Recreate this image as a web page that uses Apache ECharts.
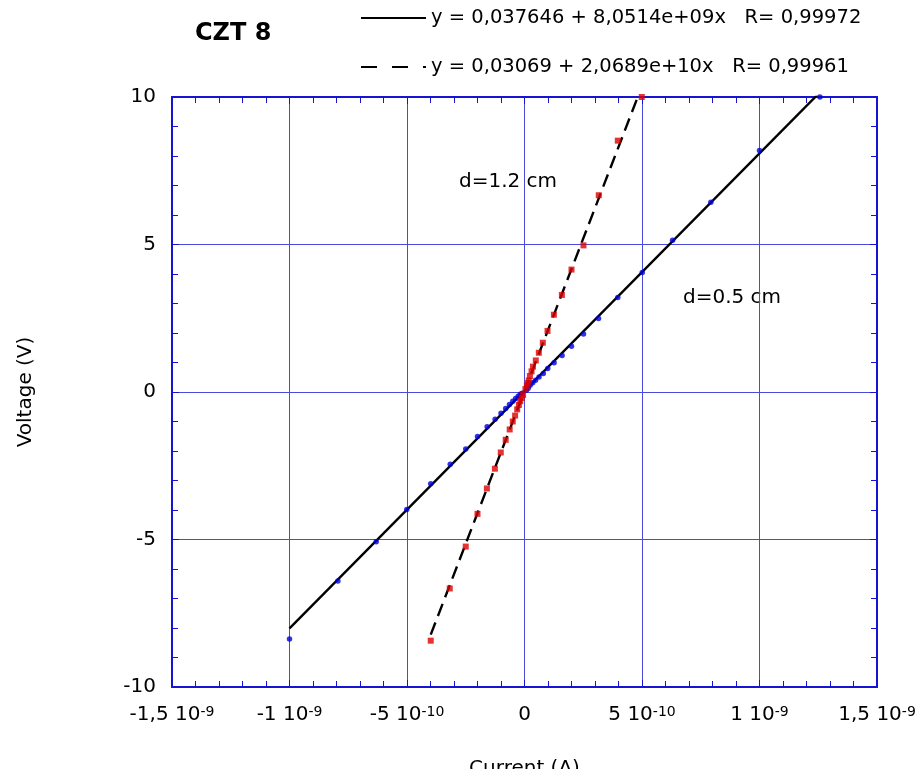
<!DOCTYPE html>
<html>
<head>
<meta charset="utf-8">
<script src="https://cdn.jsdelivr.net/npm/echarts@6/dist/echarts.min.js"></script>
<style>
html,body{margin:0;padding:0;background:#fff;}
#chart{width:917px;height:769px;}
</style>
</head>
<body>
<div id="chart"></div>
<script>
// ---------- data ----------
// d = 0.5 cm sample (blue circles): current (A), voltage (V)
const currentThin = [-1.000e-9, -0.794e-9, -0.631e-9, -0.501e-9, -0.399e-9, -0.316e-9, -0.250e-9, -0.200e-9,
  -0.159e-9, -0.125e-9, -0.100e-9, -0.080e-9, -0.064e-9, -0.050e-9, -0.038e-9, -0.027e-9, -0.018e-9, -0.010e-9,
  0.008e-9, 0.016e-9, 0.024e-9, 0.035e-9, 0.047e-9, 0.062e-9, 0.080e-9, 0.099e-9, 0.126e-9, 0.160e-9,
  0.200e-9, 0.251e-9, 0.315e-9, 0.397e-9, 0.501e-9, 0.630e-9, 0.793e-9, 1.000e-9, 1.257e-9];
const voltageThin = [-8.37, -6.41, -5.08, -3.98, -3.11, -2.45, -1.93, -1.51,
  -1.18, -0.92, -0.72, -0.56, -0.42, -0.31, -0.22, -0.14, -0.08, -0.04,
  0.06, 0.13, 0.23, 0.31, 0.40, 0.51, 0.63, 0.80, 0.99, 1.24,
  1.55, 1.97, 2.49, 3.20, 4.05, 5.14, 6.43, 8.19, 10.0];

// d = 1.2 cm sample (red squares): current (A), voltage (V)
const currentThick = [-0.399e-9, -0.318e-9, -0.250e-9, -0.200e-9, -0.160e-9, -0.126e-9, -0.101e-9, -0.080e-9,
  -0.063e-9, -0.050e-9, -0.040e-9, -0.031e-9, -0.024e-9, -0.018e-9, -0.012e-9, -0.006e-9,
  0.004e-9, 0.010e-9, 0.014e-9, 0.018e-9, 0.023e-9, 0.030e-9, 0.036e-9, 0.048e-9, 0.061e-9,
  0.078e-9, 0.098e-9, 0.125e-9, 0.159e-9, 0.200e-9, 0.251e-9, 0.316e-9, 0.397e-9, 0.499e-9];
const voltageThick = [-8.43, -6.66, -5.24, -4.13, -3.27, -2.60, -2.05, -1.62,
  -1.27, -1.00, -0.80, -0.59, -0.44, -0.31, -0.20, -0.10,
  0.10, 0.22, 0.30, 0.39, 0.54, 0.70, 0.86, 1.07, 1.33,
  1.67, 2.07, 2.62, 3.29, 4.15, 4.97, 6.67, 8.52, 10.0];

// linear fits shown in the legend
const fitThinIntercept = 0.037646, fitThinSlope = 8.0514e9;
const fitThickIntercept = 0.03069, fitThickSlope = 2.0689e10;
const legendThin = 'y = 0,037646 + 8,0514e+09x   R= 0,99972';
const legendThick = 'y = 0,03069 + 2,0689e+10x   R= 0,99961';

// axis ticks
const xTickValues = [-1.5e-9, -1e-9, -5e-10, 0, 5e-10, 1e-9, 1.5e-9];
const xTickMantissa = ['-1,5 10', '-1 10', '-5 10', '0', '5 10', '1 10', '1,5 10'];
const xTickExponent = ['-9', '-9', '-10', '', '-10', '-9', '-9'];

const chartTitle = 'CZT 8';
const labelThin = 'd=0.5 cm';
const labelThick = 'd=1.2 cm';
// ------------------------------------------------------

const FONT = 'DejaVu Sans';
const AXIS_BLUE = '#1414d2';
const GRID_BLUE = '#4a4adc';

function pairs(xs, ys) { return xs.map((x, i) => [x, ys[i]]); }
function fitLine(xs, a, b) {
  const lo = Math.min(...xs), hi = Math.max(...xs);
  return [[lo, a + b * lo], [hi, a + b * hi]];
}
function xLabel(v) {
  let idx = 0, best = Infinity;
  xTickValues.forEach((t, i) => { const d = Math.abs(t - v); if (d < best) { best = d; idx = i; } });
  const e = xTickExponent[idx];
  return e ? '{m|' + xTickMantissa[idx] + '}{s|' + e + '}' : '{m|' + xTickMantissa[idx] + '}';
}

const tickCommon = {
  axisLine: { show: true, onZero: false, lineStyle: { color: AXIS_BLUE, width: 2 } },
  axisTick: { show: true, inside: true, length: 7, lineStyle: { color: AXIS_BLUE, width: 1 } },
  minorTick: { show: true, splitNumber: 5, length: 6, lineStyle: { color: AXIS_BLUE, width: 1 } }
};

const chart = echarts.init(document.getElementById('chart'), null, { renderer: 'canvas' });
chart.setOption({
  animation: false,
  backgroundColor: '#ffffff',
  textStyle: { fontFamily: FONT },
  title: {
    text: chartTitle, left: 190, top: 15,
    textStyle: { fontFamily: FONT, fontSize: 24, fontWeight: 'bold', color: '#000', lineHeight: 28 }
  },
  legend: {
    orient: 'vertical', left: 355, top: 3,
    itemWidth: 65, itemHeight: 20, itemGap: 29,
    selectedMode: false,
    textStyle: { fontFamily: FONT, fontSize: 19.5, color: '#000', lineHeight: 20 },
    data: [
      { name: legendThin, itemStyle: { opacity: 0 } },
      { name: legendThick, itemStyle: { opacity: 0 }, lineStyle: { type: [16, 15] } }
    ]
  },
  grid: { left: 172, right: 40, top: 97, bottom: 82, containLabel: false, outerBoundsMode: 'none' },
  xAxis: [
    Object.assign({
      type: 'value', position: 'bottom',
      min: -1.5e-9, max: 1.5e-9, interval: 5e-10,
      name: 'Current (A)', nameLocation: 'middle', nameGap: 72,
      nameTextStyle: { fontFamily: FONT, fontSize: 20, color: '#000' },
      axisLabel: {
        margin: 18, formatter: xLabel, showMinLabel: true, showMaxLabel: true, hideOverlap: false,
        rich: {
          m: { fontFamily: FONT, fontSize: 20, color: '#000', lineHeight: 22, verticalAlign: 'top' },
          s: { fontFamily: FONT, fontSize: 14, color: '#000', lineHeight: 14, verticalAlign: 'top' }
        }
      },
      splitLine: { show: true, lineStyle: { color: GRID_BLUE, width: 1 } }
    }, tickCommon),
    Object.assign({
      type: 'value', position: 'top',
      min: -1.5e-9, max: 1.5e-9, interval: 5e-10,
      axisLabel: { show: false },
      splitLine: { show: false }
    }, tickCommon)
  ],
  yAxis: [
    Object.assign({
      type: 'value', position: 'left',
      min: -10, max: 10, interval: 5,
      name: 'Voltage (V)', nameLocation: 'middle', nameGap: 136, nameRotate: 90,
      nameTextStyle: { fontFamily: FONT, fontSize: 20, color: '#000' },
      axisLabel: { margin: 16, fontFamily: FONT, fontSize: 20, color: '#000' },
      splitLine: { show: true, lineStyle: { color: GRID_BLUE, width: 1 } }
    }, tickCommon),
    Object.assign({
      type: 'value', position: 'right',
      min: -10, max: 10, interval: 5,
      axisLabel: { show: false },
      splitLine: { show: false }
    }, tickCommon)
  ],
  graphic: [
    { type: 'text', x: 459, y: 182, silent: true,
      style: { text: labelThick, fontFamily: FONT, fontSize: 20, fill: '#000', verticalAlign: 'middle' } },
    { type: 'text', x: 683, y: 298, silent: true,
      style: { text: labelThin, fontFamily: FONT, fontSize: 20, fill: '#000', verticalAlign: 'middle' } }
  ],
  series: [
    {
      name: legendThin, type: 'line', xAxisIndex: 0, yAxisIndex: 0,
      data: fitLine(currentThin, fitThinIntercept, fitThinSlope),
      symbol: 'none', clip: true, silent: true, z: 2,
      lineStyle: { color: '#000', width: 2.4, type: 'solid' },
      itemStyle: { color: '#000' }
    },
    {
      name: legendThick, type: 'line', xAxisIndex: 0, yAxisIndex: 0,
      data: fitLine(currentThick, fitThickIntercept, fitThickSlope),
      symbol: 'none', clip: true, silent: true, z: 2,
      lineStyle: { color: '#000', width: 2.4, type: [13, 7] },
      itemStyle: { color: '#000' }
    },
    {
      name: labelThin, type: 'scatter', xAxisIndex: 0, yAxisIndex: 0,
      data: pairs(currentThin, voltageThin),
      symbol: 'circle', symbolSize: 5.5, z: 3,
      itemStyle: { color: '#0000dd' }
    },
    {
      name: labelThick, type: 'scatter', xAxisIndex: 0, yAxisIndex: 0,
      data: pairs(currentThick, voltageThick),
      symbol: 'rect', symbolSize: 6, z: 3,
      itemStyle: { color: '#dd0000' }
    }
  ]
});
</script>
</body>
</html>
